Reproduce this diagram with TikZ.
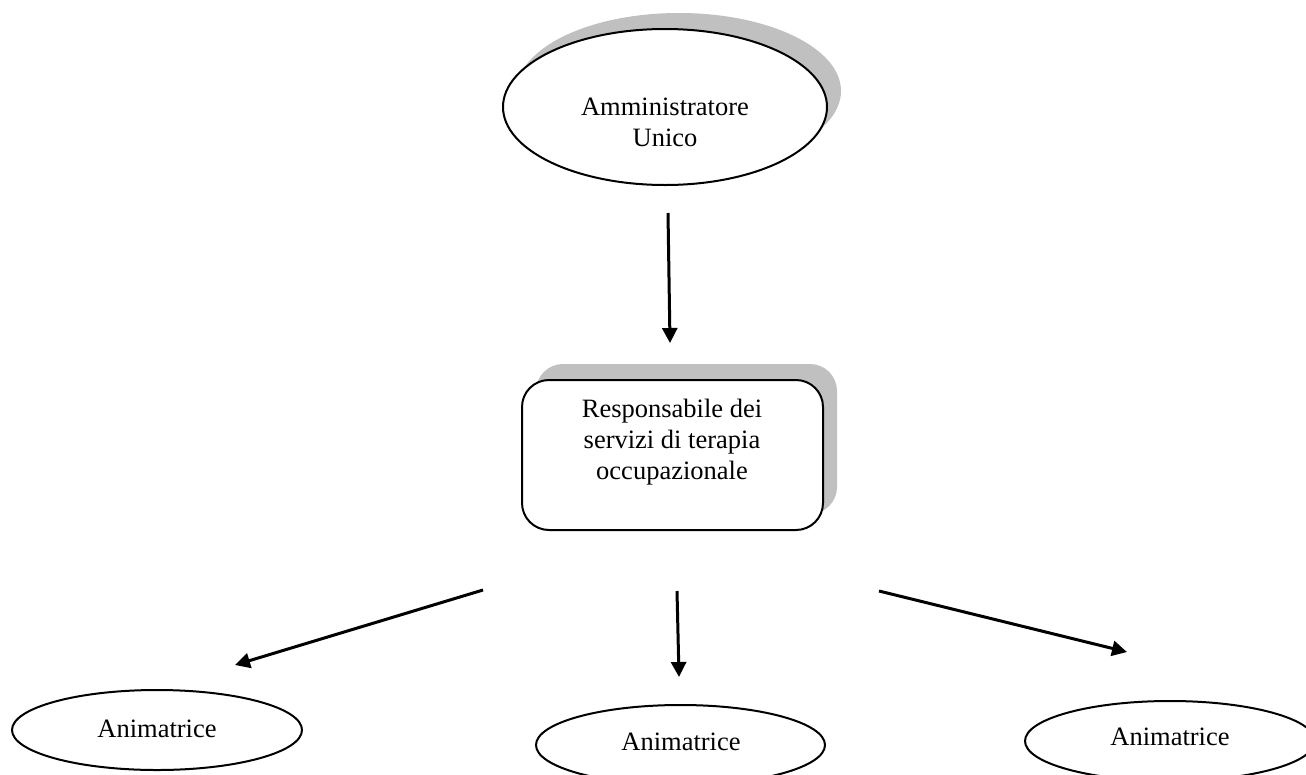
\documentclass[tikz,border=0pt]{standalone}
\usepackage{fontspec}
\setmainfont{Liberation Serif}
\usetikzlibrary{shapes.geometric,arrows.meta}
\definecolor{shadowgray}{HTML}{C0C0C0}
\tikzset{
  ovalbox/.style={ellipse, draw=black, line width=2pt, fill=white, inner sep=0pt},
  ovalshadow/.style={ellipse, fill=shadowgray, draw=none, inner sep=0pt},
  roundbox/.style={rectangle, rounded corners=27pt, draw=black, line width=2pt, fill=white, inner sep=0pt, minimum width=301pt, minimum height=150pt},
  roundshadow/.style={rectangle, rounded corners=27pt, fill=shadowgray, draw=none, inner sep=0pt, minimum width=301pt, minimum height=150pt},
  txt/.style={align=center, inner sep=0pt, font=\fontsize{26.5}{31}\selectfont},
  conn/.style={line width=3pt, -{Triangle[length=15pt,width=15pt]}}
}
\begin{document}
\begin{tikzpicture}[x=1pt,y=-1pt]
\useasboundingbox (0,0) rectangle (1306,774);
\clip (0,0) rectangle (1306,774);
\fill[white] (0,0) rectangle (1306,774);
% top ellipse
\node[ovalshadow, minimum width=324pt, minimum height=156pt] (admsh) at (679,91) {};
\node[ovalbox, minimum width=324pt, minimum height=156pt] (adm) at (665,107) {};
\node[txt] (admtxt) at (665,122) {Amministratore\\Unico};
% box
\node[roundshadow] (respsh) at (686.5,439) {};
\node[roundbox] (resp) at (672.5,455) {};
\node[txt] (resptxt) at (672,442) {Responsabile dei\\servizi di terapia\\occupazionale};
% bottom ellipses
\node[ovalbox, minimum width=290pt, minimum height=80pt] (an1) at (157,730) {};
\node[txt, anchor=base] (an1txt) at (157,737) {Animatrice};
\node[ovalbox, minimum width=289pt, minimum height=80pt] (an2) at (680.5,745) {};
\node[txt, anchor=base] (an2txt) at (681,750) {Animatrice};
\node[ovalbox, minimum width=290pt, minimum height=80pt] (an3) at (1170,741) {};
\node[txt, anchor=base] (an3txt) at (1170,745) {Animatrice};
% arrow endpoints
\coordinate (a0s) at (668,213);
\coordinate (a0e) at (670,343);
\coordinate (a1s) at (483,590);
\coordinate (a1e) at (235,665);
\coordinate (a2s) at (677,591);
\coordinate (a2e) at (679,677);
\coordinate (a3s) at (879,591);
\coordinate (a3e) at (1127,652);
\draw[conn] (a0s) -- (a0e);
\draw[conn] (a1s) -- (a1e);
\draw[conn] (a2s) -- (a2e);
\draw[conn] (a3s) -- (a3e);
\end{tikzpicture}
\end{document}
